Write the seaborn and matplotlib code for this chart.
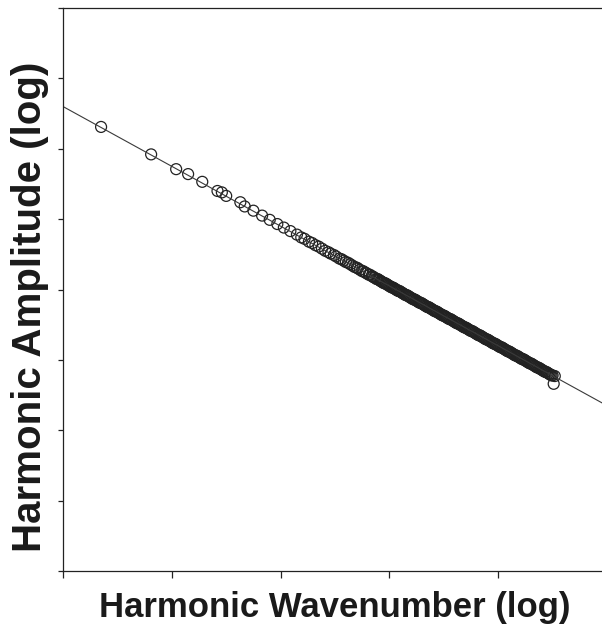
import numpy as np
import pandas as pd
import matplotlib
matplotlib.use("Agg")
import matplotlib.pyplot as plt
import seaborn as sns

# log wavenumber / log amplitude (axis units = decades)
sparse_x = [0.35, 0.81, 1.04, 1.15, 1.28, 1.42, 1.46, 1.50, 1.63,
            1.67, 1.75, 1.83, 1.90, 1.97, 2.03, 2.09, 2.15]
sparse_y = [6.31, 5.92, 5.71, 5.64, 5.53, 5.40, 5.38, 5.33, 5.24,
            5.18, 5.12, 5.05, 4.99, 4.93, 4.88, 4.83, 4.78]

mid_x = [2.19, 2.22, 2.26, 2.29, 2.32, 2.35, 2.38, 2.41, 2.44, 2.46, 2.49,
         2.51, 2.54, 2.56, 2.58, 2.60, 2.62, 2.64, 2.66, 2.68, 2.70, 2.71,
         2.73, 2.75, 2.76, 2.78, 2.79, 2.81, 2.82, 2.84, 2.85, 2.86, 2.88,
         2.89]
mid_y = [4.74, 4.72, 4.68, 4.66, 4.63, 4.61, 4.58, 4.55, 4.53, 4.51, 4.49,
         4.47, 4.44, 4.43, 4.41, 4.39, 4.38, 4.36, 4.34, 4.32, 4.31, 4.30,
         4.28, 4.26, 4.26, 4.24, 4.23, 4.21, 4.21, 4.19, 4.18, 4.17, 4.15,
         4.15]

# solid part of the band
dense_x = [2.90, 2.91, 2.92, 2.93, 2.94, 2.95, 2.96, 2.97, 2.98, 2.99,
           3.00, 3.01, 3.02, 3.03, 3.04, 3.05, 3.06, 3.07, 3.08, 3.09,
           3.10, 3.11, 3.12, 3.13, 3.14, 3.15, 3.16, 3.17, 3.18, 3.19,
           3.20, 3.21, 3.22, 3.23, 3.24, 3.25, 3.26, 3.27, 3.28, 3.29,
           3.30, 3.31, 3.32, 3.33, 3.34, 3.35, 3.36, 3.37, 3.38, 3.39,
           3.40, 3.41, 3.42, 3.43, 3.44, 3.45, 3.46, 3.47, 3.48, 3.49,
           3.50, 3.51, 3.52, 3.53, 3.54, 3.55, 3.56, 3.57, 3.58, 3.59,
           3.60, 3.61, 3.62, 3.63, 3.64, 3.65, 3.66, 3.67, 3.68, 3.69,
           3.70, 3.71, 3.72, 3.73, 3.74, 3.75, 3.76, 3.77, 3.78, 3.79,
           3.80, 3.81, 3.82, 3.83, 3.84, 3.85, 3.86, 3.87, 3.88, 3.89,
           3.90, 3.91, 3.92, 3.93, 3.94, 3.95, 3.96, 3.97, 3.98, 3.99,
           4.00, 4.01, 4.02, 4.03, 4.04, 4.05, 4.06, 4.07, 4.08, 4.09,
           4.10, 4.11, 4.12, 4.13, 4.14, 4.15, 4.16, 4.17, 4.18, 4.19,
           4.20, 4.21, 4.22, 4.23, 4.24, 4.25, 4.26, 4.27, 4.28, 4.29,
           4.30, 4.31, 4.32, 4.33, 4.34, 4.35, 4.36, 4.37, 4.38, 4.39,
           4.40, 4.41, 4.42, 4.43, 4.44, 4.45, 4.46, 4.47, 4.48, 4.49,
           4.50, 4.52, 4.51]
dense_y = [4.14, 4.13, 4.12, 4.11, 4.10, 4.09, 4.09, 4.08, 4.07, 4.06,
           4.05, 4.04, 4.03, 4.03, 4.02, 4.01, 4.00, 3.99, 3.98, 3.98,
           3.97, 3.96, 3.95, 3.94, 3.93, 3.92, 3.92, 3.91, 3.90, 3.89,
           3.88, 3.87, 3.86, 3.86, 3.85, 3.84, 3.83, 3.82, 3.81, 3.81,
           3.80, 3.79, 3.78, 3.77, 3.76, 3.75, 3.75, 3.74, 3.73, 3.72,
           3.71, 3.70, 3.69, 3.69, 3.68, 3.67, 3.66, 3.65, 3.64, 3.63,
           3.63, 3.62, 3.61, 3.60, 3.59, 3.58, 3.58, 3.57, 3.56, 3.55,
           3.54, 3.53, 3.52, 3.52, 3.51, 3.50, 3.49, 3.48, 3.47, 3.46,
           3.46, 3.45, 3.44, 3.43, 3.42, 3.41, 3.41, 3.40, 3.39, 3.38,
           3.37, 3.36, 3.35, 3.35, 3.34, 3.33, 3.32, 3.31, 3.30, 3.29,
           3.29, 3.28, 3.27, 3.26, 3.25, 3.24, 3.23, 3.23, 3.22, 3.21,
           3.20, 3.19, 3.18, 3.18, 3.17, 3.16, 3.15, 3.14, 3.13, 3.12,
           3.12, 3.11, 3.10, 3.09, 3.08, 3.07, 3.06, 3.06, 3.05, 3.04,
           3.03, 3.02, 3.01, 3.01, 3.00, 2.99, 2.98, 2.97, 2.96, 2.95,
           2.95, 2.94, 2.93, 2.92, 2.91, 2.90, 2.89, 2.89, 2.88, 2.87,
           2.86, 2.85, 2.84, 2.83, 2.83, 2.82, 2.81, 2.80, 2.79, 2.78,
           2.78, 2.77, 2.66]

# fitted line
fit_x = [0.0, 5.0]
fit_y = [6.60, 2.35]

df = pd.DataFrame({"x": sparse_x + mid_x + dense_x,
                   "y": sparse_y + mid_y + dense_y})

sns.set_style("ticks")
plt.rcParams['font.family'] = ['Liberation Sans', 'DejaVu Sans']

fig = plt.figure(figsize=(6.02, 6.25), dpi=100)
ax = fig.add_axes([63/602, 1 - 571/625, 544/602, 563/625])

sns.lineplot(x=fit_x, y=fit_y, ax=ax, color="#3a3a3a", linewidth=0.8)
sns.scatterplot(data=df, x="x", y="y", ax=ax, marker="o", s=62,
                facecolor="none", edgecolor="#222222", linewidth=0.9)

ax.set_xlim(0, 5)
ax.set_ylim(0, 8)
ax.set_xticks(np.arange(0, 6, 1))
ax.set_yticks(np.arange(0, 9, 1))
ax.set_xticklabels([])
ax.set_yticklabels([])
ax.tick_params(axis="x", direction="out", length=5, width=0.9, color="#222222")
ax.tick_params(axis="y", direction="out", length=3.6, width=0.9, color="#222222")
for s in ["left", "bottom", "top"]:
    ax.spines[s].set_color("#222222")
    ax.spines[s].set_linewidth(0.9)
ax.spines["right"].set_visible(False)

ax.set_xlabel("Harmonic Wavenumber (log)", fontsize=25, fontweight="bold",
              color="#1a1a1a", labelpad=6)
ax.set_ylabel("Harmonic Amplitude (log)", fontsize=29, fontweight="bold",
              color="#1a1a1a")
ax.yaxis.set_label_coords(-0.025, 0.47)

fig.savefig("out.png", dpi=100, facecolor="white")
